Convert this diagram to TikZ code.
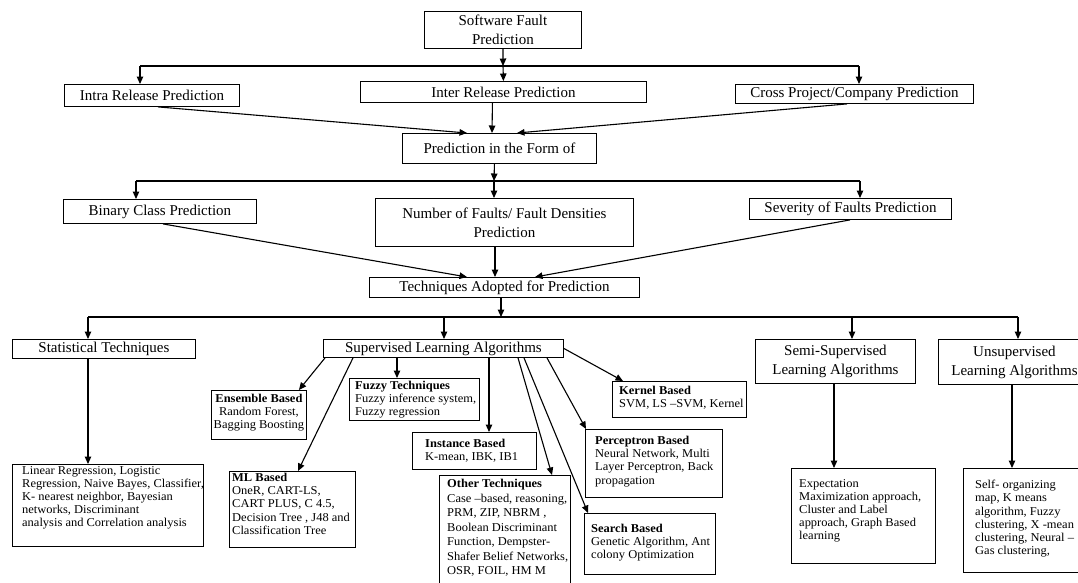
\documentclass[tikz,border=0pt]{standalone}
\usepackage{fontspec}
\setmainfont{Liberation Serif}
\newfontfamily\cfont[FakeStretch=1.04,Ligatures=TeX]{Liberation Serif}
\usetikzlibrary{arrows.meta}

\begin{document}
\begin{tikzpicture}[x=1pt,y=-1pt,
  mbox/.style={draw, line width=0.9pt, inner sep=1pt, align=center, anchor=north west,
               font=\fontsize{15}{19}\selectfont},
  cbox/.style={draw, line width=0.9pt, inner sep=0pt, anchor=north west},
  ctxt/.style={inner sep=0pt, anchor=north west, align=left,
               font=\cfont\fontsize{12}{13.2}\selectfont},
  arr/.style={line width=1.1pt, -{Triangle[length=7.5pt,width=6.5pt]}},
  ln/.style={line width=1.1pt}]
\useasboundingbox (0,0) rectangle (1078,582);
\clip (0,0) rectangle (1078,582);

% ---- upper levels ----
\node[mbox, minimum width=157pt, minimum height=37pt] (sfp) at (424,11) {Software Fault\\Prediction};
\node[mbox, minimum width=175pt, minimum height=22pt] (intra) at (64,84) {Intra Release Prediction};
\node[mbox, minimum width=286pt, minimum height=21pt] (inter) at (360,81) {Inter Release Prediction};
\node[mbox, minimum width=238pt, minimum height=19pt] (cross) at (735,84) {Cross Project/Company Prediction};
\node[mbox, minimum width=194pt, minimum height=30pt] (form) at (402,133) {Prediction in the Form of};
\node[mbox, minimum width=193pt, minimum height=24pt] (binary) at (63,199) {Binary Class Prediction};
\node[mbox, minimum width=258pt, minimum height=48pt] (number) at (375,198) {Number of Faults/ Fault Densities\\Prediction};
\node[mbox, minimum width=202pt, minimum height=21pt] (severity) at (749,198) {Severity of Faults Prediction};
\node[mbox, minimum width=270pt, minimum height=20pt] (tech) at (369,277) {Techniques Adopted for Prediction};
\node[mbox, minimum width=183pt, minimum height=19pt] (stat) at (12,339) {Statistical Techniques};
\node[mbox, minimum width=240pt, minimum height=18pt] (sup) at (323,339) {Supervised Learning Algorithms};
\node[mbox, minimum width=160pt, minimum height=44pt] (semi) at (755,339) {Semi-Supervised\\Learning Algorithms};
\node[mbox, minimum width=152pt, minimum height=45pt] (unsup) at (938,339) {Unsupervised\\Learning Algorithms};

% ---- technique detail boxes ----
\node[cbox, minimum width=191pt, minimum height=82pt] (statc) at (12,464) {};
\node[ctxt] (statt) at (22,466) {Linear Regression, Logistic\\Regression, Naive Bayes, Classifier,\\K- nearest neighbor, Bayesian\\networks, Discriminant\\analysis and Correlation analysis};

\node[cbox, minimum width=95pt, minimum height=49pt] (ens) at (211,390) {};
\node[ctxt, align=center, anchor=north] (enst) at ([yshift=-4pt]ens.north) {\textbf{Ensemble Based}\\Random Forest,\\Bagging Boosting};

\node[cbox, minimum width=126pt, minimum height=76pt] (ml) at (229,471) {};
\node[ctxt] (mlt) at (232,473) {\textbf{ML Based}\\OneR, CART-LS,\\CART PLUS, C 4.5,\\Decision Tree , J48 and\\Classification Tree};

\node[cbox, minimum width=130pt, minimum height=42pt] (fuzzy) at (349,378) {};
\node[ctxt] (fuzzyt) at (355,381) {\textbf{Fuzzy Techniques}\\Fuzzy inference system,\\Fuzzy regression};

\node[cbox, minimum width=124pt, minimum height=37pt] (inst) at (412,432) {};
\node[ctxt] (instt) at (425,439) {\textbf{Instance Based}\\K-mean, IBK, IB1};

\node[cbox, minimum width=131pt, minimum height=125pt] (other) at (439,475) {};
\node[ctxt, font=\cfont\fontsize{12}{14.5}\selectfont] (othert) at (447,479) {\textbf{Other Techniques}\\Case –based, reasoning,\\PRM, ZIP, NBRM ,\\Boolean Discriminant\\Function, Dempster-\\Shafer Belief Networks,\\OSR, FOIL, HM M};

\node[cbox, minimum width=134pt, minimum height=36pt] (kernel) at (612,381) {};
\node[ctxt] (kernelt) at (619,386) {\textbf{Kernel Based}\\SVM, LS –SVM, Kernel};

\node[cbox, minimum width=137pt, minimum height=68pt] (perc) at (585,429) {};
\node[ctxt] (perct) at (595,436) {\textbf{Perceptron Based}\\Neural Network, Multi\\Layer Perceptron, Back\\propagation};

\node[cbox, minimum width=131pt, minimum height=61pt] (search) at (584,513) {};
\node[ctxt] (searcht) at (591,524) {\textbf{Search Based}\\Genetic Algorithm, Ant\\colony Optimization};

\node[cbox, minimum width=144pt, minimum height=95pt] (semic) at (791,468) {};
\node[ctxt] (semit) at (799,479) {Expectation\\Maximization approach,\\Cluster and Label\\approach, Graph Based\\learning};

\node[cbox, minimum width=125pt, minimum height=104pt] (unsupc) at (963,468) {};
\node[ctxt] (unsupt) at (975,480) {Self- organizing\\map, K means\\algorithm, Fuzzy\\clustering, X -mean\\clustering, Neural –\\Gas clustering,};

% ---- connectors: first split ----
\coordinate (j1) at (503,66);
\coordinate (j1l) at (140,66);
\coordinate (j1r) at (859,66);
\draw[arr] (sfp.south) -- (j1);
\draw[ln] (j1l) -- (j1r);
\draw[arr] (j1l) -- (j1l |- intra.north);
\draw[arr] (j1) -- (inter.north);
\draw[arr] (j1r) -- (j1r |- cross.north);

\draw[arr] ([xshift=94pt]intra.south west) -- ([xshift=65pt]form.north west);
\draw[arr] ([xshift=-11pt]inter.south) -- ([xshift=90pt]form.north west);
\draw[arr] ([xshift=112pt]cross.south west) -- ([xshift=115pt]form.north west);

% ---- second split ----
\coordinate (j2) at (494,181);
\coordinate (j2l) at (136,181);
\coordinate (j2r) at (860,181);
\draw[arr] ([xshift=-5pt]form.south) -- (j2);
\draw[ln] (j2l) -- (j2r);
\draw[arr] (j2l) -- (j2l |- binary.north);
\draw[arr] (j2) -- (j2 |- number.north);
\draw[arr] (j2r) -- (j2r |- severity.north);

\draw[arr] ([xshift=100pt]binary.south west) -- ([xshift=98pt]tech.north west);
\draw[arr] ([xshift=120pt]number.south west) -- ([xshift=126pt]tech.north west);
\draw[arr] ([xshift=101pt]severity.south west) -- ([xshift=166pt]tech.north west);

% ---- third split ----
\coordinate (j3) at (501,317);
\coordinate (j3l) at (88,317);
\coordinate (j3a) at (444,317);
\coordinate (j3b) at (852,317);
\coordinate (j3r) at (1018,317);
\draw[arr] ([xshift=132pt]tech.south west) -- (j3);
\draw[ln] (j3l) -- (j3r);
\draw[arr] (j3l) -- (j3l |- stat.north);
\draw[arr] (j3a) -- (j3a |- sup.north);
\draw[arr] (j3b) -- (j3b |- semi.north);
\draw[arr] (j3r) -- (j3r |- unsup.north);

\draw[arr] ([xshift=76pt]stat.south west) -- ([xshift=76pt]statc.north west);
\draw[arr] ([xshift=79pt]semi.south west) -- ([xshift=43pt]semic.north west);
\draw[arr] ([xshift=74pt]unsup.south west) -- ([xshift=49pt]unsupc.north west);

% ---- supervised learning fan-out ----
\draw[arr] ([xshift=2pt]sup.south west) -- ([xshift=-8pt]ens.north east);
\draw[arr] ([xshift=30pt]sup.south west) -- ([xshift=69pt]ml.north west);
\draw[arr] ([xshift=74pt]sup.south west) -- ([xshift=48pt]fuzzy.north west);
\draw[arr] ([xshift=166pt]sup.south west) -- ([xshift=77pt]inst.north west);
\draw[arr] ([xshift=195pt]sup.south west) -- ([xshift=113pt]other.north west);
\draw[arr] ([xshift=201pt]sup.south west) -- ([xshift=4pt]search.north west);
\draw[arr] ([xshift=224pt]sup.south west) -- ([xshift=1pt]perc.north west);
\draw[arr] (sup.east) -- ([xshift=11pt]kernel.north west);
\end{tikzpicture}
\end{document}
